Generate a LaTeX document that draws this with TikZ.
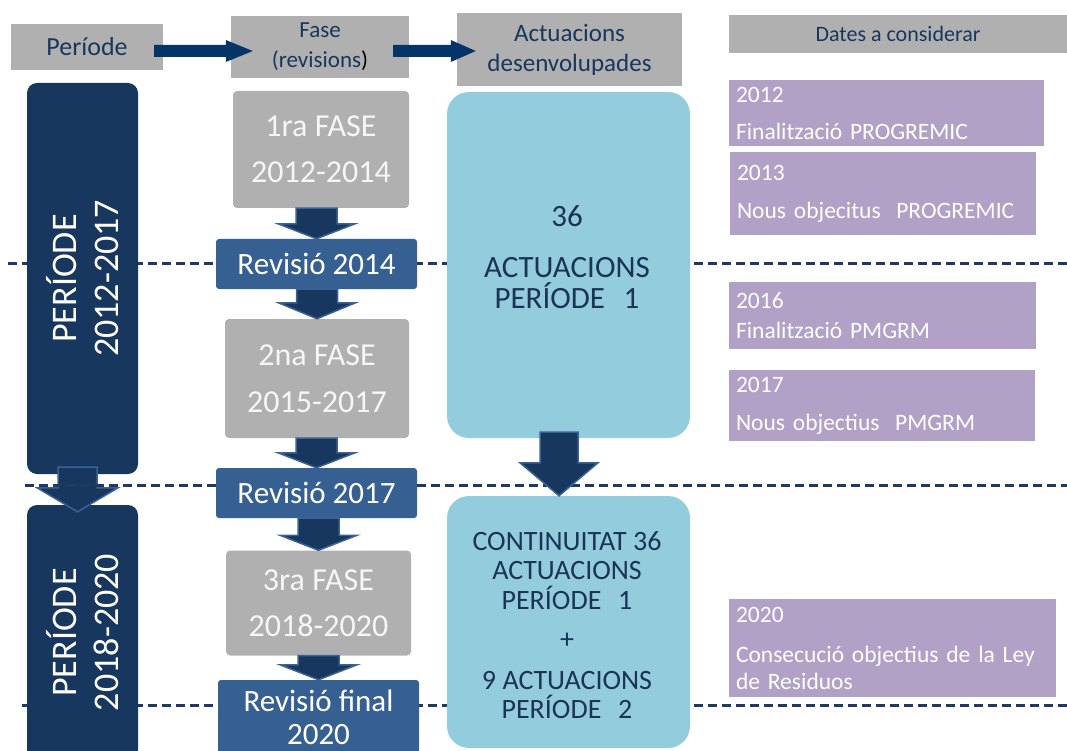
\documentclass[tikz,border=0pt]{standalone}
\usepackage{fontspec}
\setmainfont{Carlito}
\usetikzlibrary{calc}
\definecolor{hdrgray}{RGB}{176,176,176}
\definecolor{navy}{RGB}{24,55,94}
\definecolor{navyedge}{RGB}{60,98,148}
\definecolor{revblue}{RGB}{54,96,146}
\definecolor{aquac}{RGB}{147,205,221}
\definecolor{purpc}{RGB}{178,161,199}
\definecolor{hdrtext}{RGB}{23,55,94}
\definecolor{arrownavy}{RGB}{5,52,104}
\definecolor{phasetext}{RGB}{246,246,246}
\definecolor{dashcol}{RGB}{31,56,100}
\definecolor{aquatext}{RGB}{27,52,84}

\newcommand{\fatdown}[5]{\path[downarrow] let \p1=(#1), \p2=(#2) in
  (\x2-#3,\y1) -- (\x2+#3,\y1) -- (\x2+#3,\y2+#5) -- (\x2+#4,\y2+#5) -- (\x2,\y2)
  -- (\x2-#4,\y2+#5) -- (\x2-#3,\y2+#5) -- cycle;}
\newcommand{\fatright}[5]{\path[hdrarrow] let \p1=(#1), \p2=(#2) in
  (\x1,\y2+#3) -- (\x2-#5,\y2+#3) -- (\x2-#5,\y2+#4) -- (\x2,\y2)
  -- (\x2-#5,\y2-#4) -- (\x2-#5,\y2-#3) -- (\x1,\y2-#3) -- cycle;}

\begin{document}
\begin{tikzpicture}[x=1pt,y=-1pt,
  hdr/.style={fill=hdrgray, text=hdrtext, align=center, inner sep=0pt},
  navybox/.style={fill=navy, rounded corners=10pt, inner sep=0pt},
  ptext/.style={text=white, align=center, inner sep=0pt, font=\fontsize{36}{42}\selectfont},
  phase/.style={fill=hdrgray, text=phasetext, rounded corners=4pt, align=center, inner sep=0pt, font=\fontsize{32}{36}\selectfont},
  rev/.style={fill=revblue, text=white, rounded corners=3pt, align=center, inner sep=0pt, font=\fontsize{31}{34}\selectfont},
  aquabox/.style={fill=aquac, rounded corners=22pt, inner sep=0pt},
  aquatxt/.style={text=aquatext, align=center, inner sep=0pt},
  purp/.style={fill=purpc, text=white, align=left, inner xsep=7pt, inner ysep=0pt, font=\fontsize{23.5}{27}\selectfont},
  dline/.style={draw=dashcol, line width=3pt, dash pattern=on 9pt off 5pt},
  downarrow/.style={fill=navy, draw=navyedge, line width=1.5pt, line join=miter},
  hdrarrow/.style={fill=arrownavy}
]
\useasboundingbox (0,0) rectangle (1067,751);
\clip (0,0) rectangle (1067,751);

% dashed separators
\coordinate (l1a) at (8,263);  \coordinate (l1b) at (1067,263);
\coordinate (l2a) at (25,485); \coordinate (l2b) at (1067,485);
\coordinate (l3a) at (22,705); \coordinate (l3b) at (1067,705);
\draw[dline] (l1a) -- (l1b);
\draw[dline] (l3a) -- (l3b);

% headers
\node[hdr, minimum width=152pt, minimum height=46pt, font=\fontsize{26}{30}\selectfont] (hPer) at (87,47) {Període};
\node[hdr, minimum width=178pt, minimum height=62pt, font=\fontsize{23}{30}\selectfont] (hFase) at (320,47) {Fase\\(revisions{\color{black})}};
\node[hdr, minimum width=225pt, minimum height=73pt, font=\fontsize{25}{30}\selectfont] (hAct) at (569.5,49.5) {Actuacions\\desenvolupades};
\node[hdr, minimum width=338pt, minimum height=38pt, font=\fontsize{22}{24}\selectfont] (hDat) at (898,34) {Dates a considerar};
\fatright{[xshift=-9pt]hPer.east}{[xshift=22pt,yshift=-4pt]hFase.west}{6pt}{11pt}{27pt}
\fatright{[xshift=-16pt]hFase.east}{[xshift=19pt,yshift=-1.5pt]hAct.west}{6pt}{11pt}{25pt}

% period boxes
\node[navybox, minimum width=111pt, minimum height=391pt] (p1) at (82.5,278.5) {};
\node[ptext, rotate=90] (p1t) at (p1.center) {PERÍODE\\2012-2017};
\node[navybox, minimum width=111pt, minimum height=255pt] (p2) at (82.5,632.5) {};
\node[ptext, rotate=90] (p2t) at (p2.center) {PERÍODE\\2018-2020};
\fatdown{[yshift=7pt]p1.south}{[xshift=-5pt,yshift=-7pt]p2.north}{19.5pt}{40.5pt}{24pt}
\draw[dline] (l2a) -- (l2b);

% phases and revisions
\node[phase, minimum width=176pt, minimum height=117pt] (f1) at (321,149.5) {1ra FASE\\[10pt]2012-2014};
\node[rev, minimum width=201pt, minimum height=50pt] (r1) at (316.5,264) {Revisió 2014};
\node[phase, minimum width=184pt, minimum height=119pt] (f2) at (317,378.5) {2na FASE\\[11pt]2015-2017};
\node[rev, minimum width=201pt, minimum height=50pt] (r2) at (316.5,493) {Revisió 2017};
\node[phase, minimum width=185pt, minimum height=105pt] (f3) at (318.5,603) {3ra FASE\\[10pt]2018-2020};
\node[rev, minimum width=201pt, minimum height=74pt, font=\fontsize{31}{33}\selectfont] (r3) at (318.5,717) {Revisió final\\2020};
\fatdown{f1.south}{r1.north}{20.5pt}{38.5pt}{15pt}
\fatdown{r1.south}{f2.north}{20.5pt}{38.5pt}{16pt}
\fatdown{f2.south}{r2.north}{20.5pt}{38.5pt}{15pt}
\fatdown{r2.south}{f3.north}{20.5pt}{38.5pt}{15pt}
\fatdown{f3.south}{r3.north}{20.5pt}{38.5pt}{15pt}

% actions
\node[aquabox, minimum width=243pt, minimum height=346pt] (a1) at (568.5,265) {};
\node[aquatxt, font=\fontsize{31}{31}\selectfont] (a1t) at (567,257.5) {36\\[20pt]ACTUACIONS\\PERÍODE\hspace{0.6em}1};
\node[aquabox, minimum width=243pt, minimum height=252pt] (a2) at (568.5,622) {};
\node[aquatxt, font=\fontsize{28}{29.5}\selectfont] (a2t) at (567,625) {CONTINUITAT 36\\ACTUACIONS\\PERÍODE\hspace{0.6em}1\\[10pt]+\\[11pt]9 ACTUACIONS\\PERÍODE\hspace{0.6em}2};
\fatdown{[yshift=6pt]a1.south}{[xshift=-9.5pt]a2.north}{19pt}{39pt}{33pt}

% dates
\node[purp, text width=301pt, minimum height=66pt] (d12) at (886.5,113) {2012\\[10pt]\mbox{Finalització PROGREMIC}};
\node[purp, text width=292pt, minimum height=83pt] (d13) at (883,193.5) {2013\\[11pt]\mbox{Nous objecitus\ \ PROGREMIC}};
\node[purp, text width=293pt, minimum height=67pt] (d16) at (882.5,315.5) {2016\\[3pt]\mbox{Finalització PMGRM}};
\node[purp, text width=292pt, minimum height=71pt] (d17) at (882,405.5) {2017\\[11pt]\mbox{Nous objectius\ \ PMGRM}};
\node[purp, text width=313pt, minimum height=98pt] (d20) at (892.5,648) {2020\\[13pt]\mbox{Consecució objectius de la Ley}\\de Residuos};
\end{tikzpicture}
\end{document}
